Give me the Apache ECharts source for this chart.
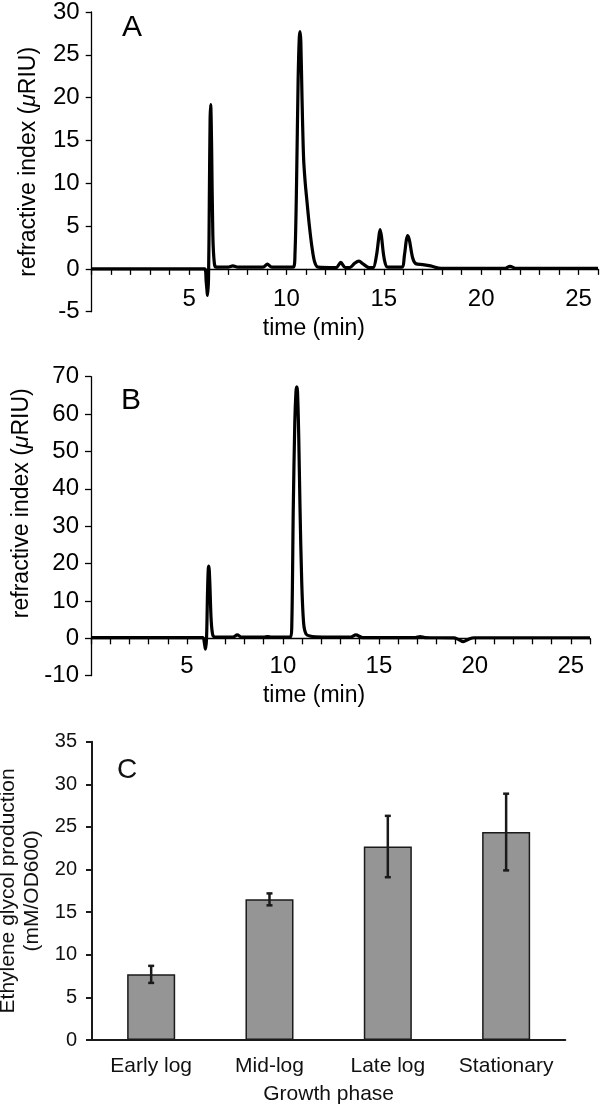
<!DOCTYPE html>
<html><head><meta charset="utf-8">
<script src="https://cdn.jsdelivr.net/npm/echarts@6/dist/echarts.min.js"></script>
<style>html,body{margin:0;padding:0;background:#fff}#c{width:600px;height:1106px}</style>
</head><body><div id="c"></div>
<script>
// Panel A chromatogram (time in min, refractive index in µRIU)
const tA = [0, 5.80, 5.88, 5.95, 6.00, 6.04, 6.08, 6.11, 6.16, 6.22, 6.30, 6.40, 7.00, 7.25, 7.50, 8.80, 9.02, 9.25, 10.35, 10.44, 10.52, 10.60, 10.66, 10.70, 10.74, 10.80, 10.88, 10.96, 11.05, 11.18, 11.32, 11.45, 11.62, 12.55, 12.79, 13.02, 13.25, 13.50, 13.72, 13.95, 14.25, 14.45, 14.62, 14.75, 14.81, 14.88, 15.02, 15.20, 15.92, 16.06, 16.16, 16.23, 16.32, 16.48, 16.65, 17.00, 17.40, 17.95, 21.20, 21.48, 21.80, 26.00];
const vA = [0, 0, -1.5, -3.1, -1.0, 8, 17.5, 19.2, 14, 4, 0.6, 0.2, 0.2, 0.35, 0.2, 0.2, 0.55, 0.2, 0.2, 1.8, 10, 22, 27.0, 27.7, 26.5, 20, 13, 10.2, 8, 5, 2.4, 0.8, 0.2, 0.15, 0.75, 0.15, 0.15, 0.65, 0.9, 0.55, 0.15, 0.15, 1.5, 3.8, 4.6, 3.8, 1.2, 0.2, 0.2, 1.6, 3.4, 3.9, 3.3, 1.3, 0.6, 0.5, 0.35, 0.05, 0.05, 0.3, 0.05, 0.05];
// Panel B chromatogram
const tB = [0, 5.82, 5.90, 5.96, 6.02, 6.07, 6.11, 6.14, 6.19, 6.26, 6.35, 6.50, 7.40, 7.62, 7.85, 9.00, 9.20, 9.40, 10.38, 10.46, 10.54, 10.62, 10.68, 10.72, 10.76, 10.82, 10.89, 10.98, 11.08, 11.20, 11.40, 11.70, 13.50, 13.80, 14.15, 16.90, 17.15, 17.40, 18.90, 19.15, 19.40, 19.65, 19.95, 26.00];
const vB = [0.2, 0.2, -1.0, -2.9, 0, 12, 18.5, 19.3, 15, 5, 0.8, 0.3, 0.3, 0.9, 0.3, 0.3, 0.45, 0.3, 0.3, 3, 35, 58, 66, 67.3, 66, 55, 35, 15, 4, 1.2, 0.6, 0.4, 0.3, 0.9, 0.2, 0.2, 0.45, 0.2, 0.1, -0.3, -0.9, -0.3, 0.15, 0.15];
// Panel C bars
const phases = ['Early log', 'Mid-log', 'Late log', 'Stationary'];
const production = [7.7, 16.5, 22.7, 24.4];
const productionErr = [1.0, 0.7, 3.6, 4.5];

const FONT = '"Liberation Sans", Arial, Helvetica, sans-serif';
const blk = {color: '#000', width: 1.3};
const dk = {color: '#1a1a1a', width: 2};

function tickAxis(grid, max) {
  return {gridIndex: grid, type: 'value', min: 0, max: max, interval: 1, position: 'bottom',
    axisLine: {show: true, onZero: true, lineStyle: blk},
    axisTick: {show: true, length: 6, lineStyle: blk},
    axisLabel: {show: false}, splitLine: {show: false}};
}
function labelAxis(grid, max, margin, nameGap, shift) {
  return {gridIndex: grid, type: 'value', min: 0, max: max, interval: 5, position: 'bottom',
    axisLine: {show: false, onZero: false}, axisTick: {show: false}, splitLine: {show: false},
    axisLabel: {fontSize: 24, color: '#000', fontFamily: FONT, verticalAlign: 'bottom', margin: margin,
      formatter: v => v === 0 ? '' : String(v)},
    name: 'time (min)', nameLocation: 'middle', nameGap: nameGap,
    nameTextStyle: {fontSize: 23, color: '#000', fontFamily: FONT, verticalAlign: 'top', padding: [0, shift, 0, 0]}};
}
function valAxis(grid, min, max, interval, shift) {
  return {gridIndex: grid, type: 'value', min: min, max: max, interval: interval,
    axisLine: {show: true, onZero: false, lineStyle: blk},
    axisTick: {show: true, length: 6, lineStyle: blk},
    axisLabel: {fontSize: 24, color: '#000', fontFamily: FONT, margin: 12},
    splitLine: {show: false},
    name: 'refractive index ({mu|μ}RIU)', nameLocation: 'middle', nameGap: 52,
    nameTextStyle: {fontSize: 23, color: '#000', fontFamily: FONT, padding: [0, 0, 0, shift],
      rich: {mu: {fontSize: 23, fontStyle: 'italic', color: '#000', fontFamily: FONT}}}};
}

const chart = echarts.init(document.getElementById('c'));
chart.setOption({
  animation: false,
  textStyle: {fontFamily: FONT},
  title: [
    {text: 'A', left: 117, top: 8, textStyle: {fontSize: 30, fontWeight: 'normal', color: '#000', fontFamily: FONT}},
    {text: 'B', left: 116, top: 381, textStyle: {fontSize: 30, fontWeight: 'normal', color: '#000', fontFamily: FONT}},
    {text: 'C', left: 112, top: 751, textStyle: {fontSize: 28, fontWeight: 'normal', color: '#111', fontFamily: FONT}}
  ],
  grid: [
    {left: 91.7, top: 12, width: 506.3, height: 299.7, outerBoundsMode: 'none', containLabel: false},
    {left: 91, top: 376.7, width: 499, height: 299, outerBoundsMode: 'none', containLabel: false},
    {left: 92, top: 741.7, width: 473.3, height: 298.3, outerBoundsMode: 'none', containLabel: false}
  ],
  xAxis: [
    tickAxis(0, 26),
    labelAxis(0, 26, 0, 5, 62),
    tickAxis(1, 26),
    labelAxis(1, 26, 3, 8, 53),
    {gridIndex: 2, type: 'category', data: phases,
      axisLine: {lineStyle: dk}, axisTick: {length: 6, lineStyle: dk},
      axisLabel: {interval: 0, fontSize: 21, color: '#111', fontFamily: FONT, margin: 16},
      name: 'Growth phase', nameLocation: 'middle', nameGap: 44,
      nameTextStyle: {fontSize: 21, color: '#111', fontFamily: FONT}}
  ],
  yAxis: [
    valAxis(0, -5, 30, 5, 0),
    valAxis(1, -10, 70, 10, 46),
    {gridIndex: 2, type: 'value', min: 0, max: 35, interval: 5,
      axisLine: {show: true, lineStyle: dk}, axisTick: {show: true, length: 6, lineStyle: dk},
      axisLabel: {fontSize: 20, color: '#111', fontFamily: FONT, margin: 15},
      splitLine: {show: false},
      name: 'Ethylene glycol production\n(mM/OD600)', nameLocation: 'middle', nameGap: 40,
      nameTextStyle: {fontSize: 21, lineHeight: 24, color: '#111', fontFamily: FONT}}
  ],
  series: [
    {type: 'line', xAxisIndex: 0, yAxisIndex: 0, data: tA.map((t, i) => [t, vA[i]]),
      showSymbol: false, smooth: 0.3, lineStyle: {color: '#000', width: 3.2, join: 'round'}},
    {type: 'line', xAxisIndex: 2, yAxisIndex: 1, data: tB.map((t, i) => [t, vB[i]]),
      showSymbol: false, smooth: 0.3, lineStyle: {color: '#000', width: 3.2, join: 'round'}},
    {type: 'bar', xAxisIndex: 4, yAxisIndex: 2, data: production, barWidth: '40.6%',
      itemStyle: {color: '#959595', borderColor: '#1a1a1a', borderWidth: 1.5}},
    {type: 'custom', xAxisIndex: 4, yAxisIndex: 2, z: 10,
      data: phases.map((p, i) => [i, production[i] - productionErr[i], production[i] + productionErr[i]]),
      renderItem: (params, api) => {
        const lo = api.coord([api.value(0), api.value(1)]);
        const hi = api.coord([api.value(0), api.value(2)]);
        const hw = 3;
        const st = {stroke: '#1a1a1a', lineWidth: 2.5};
        return {type: 'group', children: [
          {type: 'line', shape: {x1: lo[0], y1: lo[1], x2: hi[0], y2: hi[1]}, style: st},
          {type: 'line', shape: {x1: lo[0] - hw, y1: lo[1], x2: lo[0] + hw, y2: lo[1]}, style: st},
          {type: 'line', shape: {x1: hi[0] - hw, y1: hi[1], x2: hi[0] + hw, y2: hi[1]}, style: st}
        ]};
      }}
  ]
});
</script></body></html>
